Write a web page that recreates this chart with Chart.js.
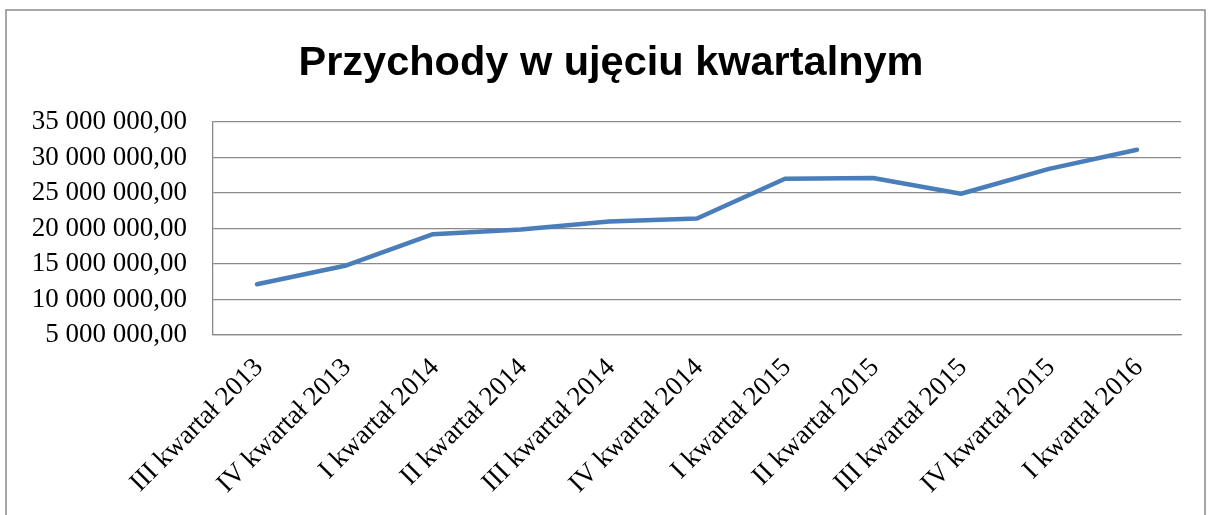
<!DOCTYPE html>
<html>
<head>
<meta charset="utf-8">
<script src="https://cdn.jsdelivr.net/npm/chart.js@4/dist/chart.umd.min.js"></script>
<style>
  html, body { margin: 0; padding: 0; background: #fff; }
  #wrap { width: 1212px; height: 515px; position: relative; }
</style>
</head>
<body>
<div id="wrap"><canvas id="c" width="1212" height="515"></canvas></div>
<script>
const categories = [
  "III kwartał 2013", "IV kwartał 2013", "I kwartał 2014", "II kwartał 2014",
  "III kwartał 2014", "IV kwartał 2014", "I kwartał 2015", "II kwartał 2015",
  "III kwartał 2015", "IV kwartał 2015", "I kwartał 2016"
];
const revenue = [
  12150000, 14750000, 19200000, 19850000, 21000000, 21400000,
  27000000, 27100000, 24900000, 28400000, 31100000
];
const yTickValues = [5000000, 10000000, 15000000, 20000000, 25000000, 30000000, 35000000];
const titleText = "Przychody w ujęciu kwartalnym";

function fmt(v) {
  return Math.round(v).toString().replace(/\B(?=(\d{3})+(?!\d))/g, " ") + ",00";
}

const frame = {
  id: "frame",
  beforeDraw(chart) {
    const ctx = chart.ctx;
    ctx.save();
    ctx.strokeStyle = "#8a8a8a";
    ctx.lineWidth = 1.5;
    ctx.strokeRect(6, 10, 1199, 600);
    ctx.restore();
  }
};

const serif = "'Liberation Serif', 'DejaVu Serif', serif";

new Chart(document.getElementById("c"), {
  type: "line",
  data: {
    labels: categories,
    datasets: [{
      data: revenue,
      borderColor: "#4A7EBB",
      backgroundColor: "#4A7EBB",
      borderWidth: 4.5,
      pointRadius: 0,
      tension: 0,
      borderCapStyle: "round",
      borderJoinStyle: "round",
      fill: false
    }]
  },
  options: {
    responsive: false,
    animation: false,
    events: [],
    layout: { padding: { left: 10, right: 0, top: 0, bottom: 0 } },
    plugins: {
      legend: { display: false },
      tooltip: { enabled: false },
      title: {
        display: true,
        text: titleText,
        color: "#000",
        font: { family: "'Liberation Sans', Arial, sans-serif", size: 41.5, weight: "bold", lineHeight: 1.2 },
        padding: { top: 39, bottom: 33.2 }
      }
    },
    scales: {
      x: {
        type: "category",
        offset: true,
        grid: { display: false, drawTicks: false },
        border: { display: true, color: "#8a8a8a", width: 1.3 },
        ticks: {
          color: "#000",
          font: { family: serif, size: 27 },
          maxRotation: 45,
          minRotation: 45,
          autoSkip: false,
          padding: 17,
          labelOffset: 2
        },
        afterFit(s) { s.height = 180; }
      },
      y: {
        min: 5000000,
        max: 35000000,
        afterBuildTicks(s) { s.ticks = yTickValues.map(v => ({ value: v })); },
        grid: { color: "#8a8a8a", lineWidth: 1.3, drawTicks: false },
        border: { display: true, color: "#8a8a8a", width: 1.3 },
        ticks: {
          color: "#000",
          font: { family: serif, size: 27 },
          padding: 26,
          callback: v => fmt(v)
        },
        afterFit(s) { s.width = 203; }
      },
      yRight: {
        position: "right",
        display: true,
        grid: { display: false, drawTicks: false },
        border: { display: false },
        ticks: { display: false },
        afterFit(s) { s.width = 31; }
      }
    }
  },
  plugins: [frame]
});
</script>
</body>
</html>
